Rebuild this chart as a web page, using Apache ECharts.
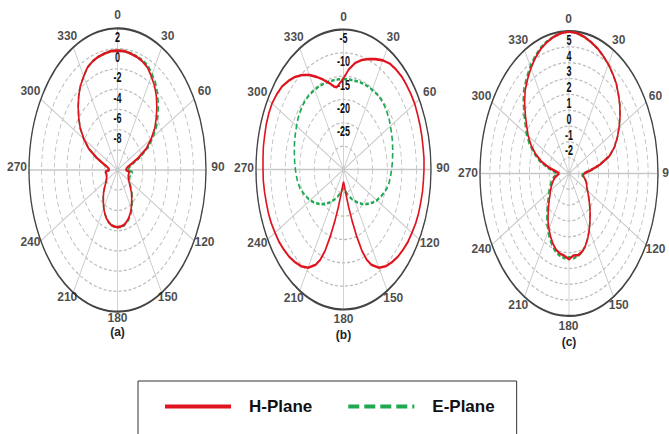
<!DOCTYPE html>
<html>
<head>
<meta charset="utf-8">
<script src="https://cdn.jsdelivr.net/npm/echarts@6/dist/echarts.min.js"></script>
<style>
  html, body { margin: 0; padding: 0; background: #fff; }
  #wrap { position: relative; width: 669px; height: 434px; overflow: hidden; }
  /* the original figure is squeezed: circles show up as tall ellipses */
  #plot { position: absolute; left: 0; top: 0; width: 669px; height: 271px; transform: scaleY(1.6); transform-origin: 0 0; }
  #text { position: absolute; left: 0; top: 0; width: 669px; height: 434px; }
</style>
</head>
<body>
<div id="wrap"><div id="plot"></div><div id="text"></div></div>
<script>
const STRETCH = 1.6
const FONT = 'Liberation Sans, Arial, sans-serif'
const RED = '#e0141e'
const GREEN = '#1ea950'

const angleTicks = [0, 30, 60, 90, 120, 150, 180, 210, 240, 270, 300, 330]
const captions = ['(a)', '(b)', '(c)']

// 5 degree steps, used by (a) and (c)
const angles5 = [0, 5, 10, 15, 20, 25, 30, 35, 40, 45, 50, 55, 60, 65, 70, 75, 80, 85, 90, 95, 100, 105, 110, 115,
  120, 125, 130, 135, 140, 145, 150, 155, 160, 165, 170, 175, 180, 185, 190, 195, 200, 205, 210, 215, 220, 225,
  230, 235, 240, 245, 250, 255, 260, 265, 270, 275, 280, 285, 290, 295, 300, 305, 310, 315, 320, 325, 330, 335,
  340, 345, 350, 355]

// (a)  dB
const hPlaneA = [-0.2, -0.2, -0.3, -0.4, -0.55, -0.8, -1.3, -1.8, -2.45, -3.2, -4.0, -4.8, -5.85, -6.95, -8.5, -9.75,
  -10.4, -10.6, -10.7, -10.05, -10.2, -10.2, -10.2, -10.1, -9.95, -9.7, -9.35, -8.9, -8.5, -8.1, -7.65, -7.25, -6.9,
  -6.65, -6.45, -6.4, -6.35, -6.4, -6.45, -6.65, -6.9, -7.25, -7.65, -8.1, -8.5, -8.9, -9.35, -9.7, -9.95, -10.1,
  -10.2, -10.2, -10.2, -10.05, -10.7, -10.6, -10.4, -9.75, -8.5, -6.95, -5.85, -4.8, -4.0, -3.2, -2.45, -1.8, -1.3,
  -0.8, -0.55, -0.4, -0.3, -0.2]
const ePlaneA = [-0.2, -0.2, -0.25, -0.35, -0.45, -0.6, -1.05, -1.5, -2.15, -2.85, -3.65, -4.45, -5.5, -6.6, -8.1, -9.4,
  -10.05, -10.2, -10.3, -9.6, -9.8, -9.9, -9.95, -9.9, -9.8, -9.55, -9.2, -8.75, -8.35, -7.95, -7.5, -7.1, -6.8,
  -6.55, -6.4, -6.35, -6.35, -6.4, -6.45, -6.65, -6.9, -7.25, -7.65, -8.1, -8.5, -8.9, -9.35, -9.7, -9.95, -10.1,
  -10.2, -10.2, -10.2, -10.05, -10.7, -10.6, -10.4, -9.75, -8.5, -6.95, -5.85, -4.8, -4.0, -3.2, -2.45, -1.8, -1.3,
  -0.8, -0.55, -0.4, -0.3, -0.2]

// (b)  finer steps round the back null
const anglesB = [0, 5, 10, 15, 20, 25, 30, 35, 40, 45, 50, 55, 60, 65, 70, 75, 80, 85, 90, 95, 100, 105, 110, 115,
  120, 125, 130, 135, 140, 145, 150, 155, 157.5, 160, 162.5, 165, 167.5, 170, 172.5, 175, 177.5, 180, 182.5, 185,
  187.5, 190, 192.5, 195, 197.5, 200, 202.5, 205, 210, 215, 220, 225, 230, 235, 240, 245, 250, 255, 260, 265, 270,
  275, 280, 285, 290, 295, 300, 305, 310, 315, 320, 325, 330, 335, 340, 345, 350, 352.5, 355, 357.5]
const hPlaneB = [-15.4, -13.4, -11.8, -10.7, -9.8, -8.9, -8.0, -7.3, -7.0, -6.8, -6.8, -6.8, -6.8, -7.0, -7.1, -7.2,
  -7.3, -7.3, -7.4, -7.5, -7.5, -7.6, -7.6, -7.7, -7.9, -8.0, -8.3, -8.6, -9.1, -9.7, -10.7, -12.5, -14.0, -16.4,
  -20.0, -23.6, -26.6, -29.0, -30.5, -31.4, -32.0, -32.3, -32.0, -31.4, -30.5, -29.0, -26.6, -23.6, -20.0, -16.4,
  -14.0, -12.5, -10.7, -9.7, -9.1, -8.6, -8.3, -8.0, -7.9, -7.7, -7.6, -7.6, -7.5, -7.4, -7.4, -7.3, -7.1, -7.0,
  -6.8, -6.7, -6.7, -7.0, -7.4, -8.2, -9.1, -10.3, -11.6, -13.1, -14.5, -15.8, -17.0, -17.2, -16.7, -16.1]
const ePlaneB = [-15.6, -15.6, -15.6, -15.5, -15.4, -15.3, -15.3, -15.2, -15.2, -15.35, -15.65, -15.95, -16.4, -16.8,
  -17.15, -17.55, -17.9, -18.2, -18.5, -18.8, -19.1, -19.55, -20.3, -21.05, -21.8, -22.7, -23.6, -24.5, -25.4, -26.3,
  -27.2, -27.95, -28.35, -28.7, -29.1, -29.45, -29.85, -30.2, -30.45, -30.65, -30.8, -30.95, -30.8, -30.65, -30.45,
  -30.2, -29.85, -29.45, -29.1, -28.7, -28.35, -27.95, -27.2, -26.3, -25.4, -24.5, -23.6, -22.7, -21.8, -21.05,
  -20.3, -19.55, -19.1, -18.8, -18.5, -18.2, -17.9, -17.55, -17.15, -16.8, -16.4, -15.95, -15.65, -15.35, -15.2,
  -15.2, -15.3, -15.3, -15.4, -15.5, -15.6, -15.6, -15.6, -15.6]

// (c)  dB
const hPlaneC = [4.98, 4.91, 4.78, 4.6, 4.42, 4.19, 3.97, 3.7, 3.43, 3.07, 2.71, 2.3, 1.85, 1.4, 0.9, 0.23, -0.85,
  -1.84, -2.47, -2.56, -2.43, -2.25, -2.11, -2.02, -1.84, -1.61, -1.34, -1.03, -0.67, -0.31, 0.1, 0.5, 0.86, 1.12,
  1.24, 1.2, 1.42, 1.22, 1.15, 1.0, 0.73, 0.41, 0.05, -0.31, -0.72, -1.08, -1.39, -1.66, -1.84, -2.02, -2.2, -2.38,
  -2.56, -2.83, -3.01, -2.74, -2.02, -1.12, -0.4, 0.23, 0.77, 1.22, 1.76, 2.35, 2.89, 3.29, 3.7, 4.06, 4.37, 4.6,
  4.78, 4.91]
const ePlaneC = [4.98, 4.91, 4.78, 4.6, 4.42, 4.19, 3.97, 3.7, 3.43, 3.07, 2.71, 2.3, 1.85, 1.4, 0.9, 0.23, -0.85,
  -1.84, -2.6, -2.7, -2.43, -2.25, -2.11, -2.02, -1.84, -1.61, -1.34, -1.03, -0.67, -0.31, 0.1, 0.5, 0.86, 1.15,
  1.3, 1.38, 1.3, 1.38, 1.28, 1.15, 0.9, 0.6, 0.24, -0.12, -0.52, -0.88, -1.2, -1.47, -1.65, -1.83, -2.0, -2.18,
  -2.35, -2.6, -2.75, -2.45, -1.75, -0.9, -0.2, 0.43, 0.97, 1.42, 1.96, 2.55, 3.07, 3.45, 3.84, 4.17, 4.45, 4.65,
  4.8, 4.92]

// lt / lb: gap of the angle labels above the top and below the bottom of each plot
const panels = [
  { cx: 117.5, cy: 170, r: 88.5, min: -12, max: 2, step: 2, angles: angles5, h: hPlaneA, e: ePlaneA, lt: 13, lb: 6, capY: 332 },
  { cx: 343.5, cy: 169.5, r: 87.5, min: -35, max: -5, step: 5, angles: anglesB, h: hPlaneB, e: ePlaneB, lt: 13, lb: 9, capY: 335 },
  { cx: 569, cy: 173.5, r: 89, min: -4, max: 5, step: 1, angles: angles5, h: hPlaneC, e: ePlaneC, lt: 12, lb: 10, capY: 342 }
]

function loop (angles, vals) {
  const d = angles.map((a, i) => [vals[i], a])
  d.push([vals[0], 360])
  return d
}

// --- polar plots (stretched layer) ---
const plot = echarts.init(document.getElementById('plot'), null, { renderer: 'svg' })
const series = []
panels.forEach((p, i) => {
  series.push({
    type: 'line', name: 'E-Plane', coordinateSystem: 'polar', polarIndex: i,
    data: loop(p.angles, p.e), symbol: 'none', silent: true,
    lineStyle: { color: GREEN, width: 1.6, type: [3.5, 2] }
  })
  series.push({
    type: 'line', name: 'H-Plane', coordinateSystem: 'polar', polarIndex: i,
    data: loop(p.angles, p.h), symbol: 'none', silent: true,
    lineStyle: { color: RED, width: 1.6 }
  })
})
plot.setOption({
  animation: false,
  polar: panels.map(p => ({ center: [p.cx, p.cy / STRETCH], radius: p.r })),
  angleAxis: panels.map((p, i) => ({
    polarIndex: i, type: 'value', min: 0, max: 360, interval: 30, startAngle: 90, clockwise: true,
    axisLine: { lineStyle: { color: '#444', width: 1.3 } },
    axisTick: { show: false },
    axisLabel: { show: false },
    splitLine: { lineStyle: { color: '#c8c8c8', width: 0.8 } }
  })),
  radiusAxis: panels.map((p, i) => ({
    polarIndex: i, type: 'value', min: p.min, max: p.max, interval: p.step,
    axisLine: { show: false },
    axisTick: { show: false },
    splitLine: { lineStyle: { color: '#bbbbbb', width: 0.8, type: [3, 2] } },
    axisLabel: {
      margin: 0, align: 'center', verticalAlign: 'top', padding: [1, 0, 0, 0],
      fontSize: 9, fontWeight: 'bold', color: '#111', fontFamily: FONT,
      formatter: v => (v > p.min + p.step ? String(v) : '')
    }
  })),
  series
})

// --- text layer (not stretched) ---
const text = echarts.init(document.getElementById('text'), null, { renderer: 'svg' })
text.setOption({
  animation: false,
  grid: panels.map(p => ({
    left: p.cx - (p.r + 12), top: p.cy - (p.r * STRETCH + p.lt),
    width: 2 * (p.r + 12), height: 2 * p.r * STRETCH + p.lt + p.lb
  })),
  xAxis: panels.map((p, i) => ({ gridIndex: i, type: 'value', min: -1, max: 1, show: false })),
  yAxis: panels.map((p, i) => ({ gridIndex: i, type: 'value', min: -1, max: 1, show: false })),
  legend: {
    data: ['H-Plane', 'E-Plane'], left: 138, top: 381,
    padding: [17, 22, 40, 25], itemWidth: 66, itemHeight: 14, itemGap: 34,
    borderColor: '#333', borderWidth: 1,
    itemStyle: { opacity: 0 },
    lineStyle: { width: 4 },
    textStyle: { fontSize: 17, fontWeight: 'bold', color: '#111', fontFamily: FONT, padding: [0, 0, 0, 13] }
  },
  graphic: panels.map((p, i) => ({
    type: 'text', x: p.cx, y: p.capY, silent: true,
    style: { text: captions[i], fontSize: 12, fontWeight: 'bold', fontFamily: FONT, fill: '#222', align: 'center', verticalAlign: 'middle' }
  })),
  series: panels.map((p, i) => ({
    type: 'scatter', xAxisIndex: i, yAxisIndex: i, silent: true, symbolSize: 1,
    itemStyle: { color: 'transparent' },
    data: angleTicks.map(a => [Math.sin(a * Math.PI / 180), Math.cos(a * Math.PI / 180), a]),
    label: {
      show: true, position: 'inside', formatter: d => String(d.value[2]),
      fontSize: 12, fontWeight: 'bold', color: '#1a1a1a', fontFamily: FONT
    }
  })).concat([
    { type: 'line', name: 'H-Plane', data: [], symbol: 'none', color: RED, lineStyle: { color: RED, width: 4 } },
    { type: 'line', name: 'E-Plane', data: [], symbol: 'none', color: GREEN, lineStyle: { color: GREEN, width: 4, type: [11, 5] } }
  ])
})
</script>
</body>
</html>
